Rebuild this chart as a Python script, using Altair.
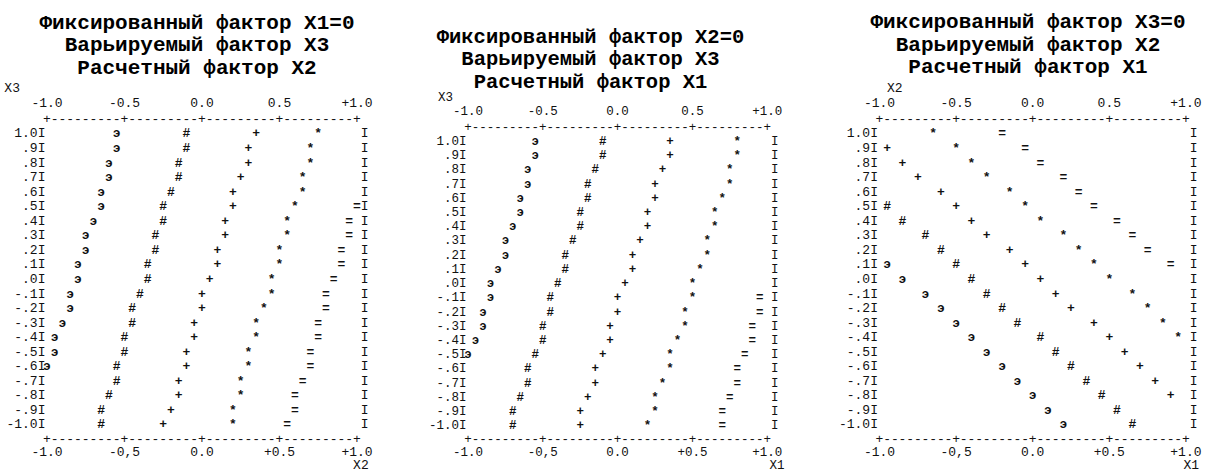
import altair as alt
import pandas as pd

ROWS = [1.0, 0.9, 0.8, 0.7, 0.6, 0.5, 0.4, 0.3, 0.2, 0.1, 0.0,
        -0.1, -0.2, -0.3, -0.4, -0.5, -0.6, -0.7, -0.8, -0.9, -1.0]
ROW_LABELS = ["1.0", ".9", ".8", ".7", ".6", ".5", ".4", ".3", ".2", ".1", ".0",
              "-.1", "-.2", "-.3", "-.4", "-.5", "-.6", "-.7", "-.8", "-.9", "-1.0"]
SYMBOLS = ["э", "#", "+", "*", "="]
TICKS = [-1.0, -0.5, 0.0, 0.5, 1.0]
TOP_TICK_LABELS = ["-1.0", "-0.5", "0.0", "0.5", "+1.0"]
BOTTOM_TICK_LABELS = ["-1.0", "-0,5", "0.0", "+0.5", "+1.0"]
STEP = 0.05  # one printer column
N = None

# Panel 1: fixed X1=0, varied X3 (rows), computed X2 (columns)
P1_TITLE = ["Фиксированный фактор X1=0", "Варьируемый фактор X3", "Расчетный фактор X2"]
P1_AXES = ("X3", "X2")
P1_E = [-0.55, -0.55, -0.6, -0.6, -0.65, -0.65, -0.7, -0.75, -0.75, -0.8, -0.8,
        -0.85, -0.85, -0.9, -0.95, -0.95, -1.0, N, N, N, N]
P1_H = [-0.1, -0.1, -0.15, -0.15, -0.2, -0.25, -0.25, -0.3, -0.3, -0.35, -0.35,
        -0.4, -0.45, -0.45, -0.5, -0.5, -0.55, -0.55, -0.6, -0.65, -0.65]
P1_P = [0.35, 0.3, 0.3, 0.25, 0.2, 0.2, 0.15, 0.15, 0.1, 0.1, 0.05,
        0.0, 0.0, -0.05, -0.05, -0.1, -0.1, -0.15, -0.15, -0.2, -0.25]
P1_S = [0.75, 0.7, 0.7, 0.65, 0.65, 0.6, 0.55, 0.55, 0.5, 0.5, 0.45,
        0.45, 0.4, 0.35, 0.35, 0.3, 0.3, 0.25, 0.25, 0.2, 0.2]
P1_Q = [N, N, N, N, N, 1.0, 0.95, 0.95, 0.9, 0.9, 0.85,
        0.8, 0.8, 0.75, 0.75, 0.7, 0.7, 0.65, 0.6, 0.6, 0.55]

# Panel 2: fixed X2=0, varied X3 (rows), computed X1 (columns)
P2_TITLE = ["Фиксированный фактор X2=0", "Варьируемый фактор X3", "Расчетный фактор X1"]
P2_AXES = ("X3", "X1")
P2_E = [-0.55, -0.55, -0.6, -0.6, -0.65, -0.65, -0.7, -0.75, -0.75, -0.8, -0.85,
        -0.85, -0.9, -0.9, -0.95, -1.0, N, N, N, N, N]
P2_H = [-0.1, -0.1, -0.15, -0.2, -0.2, -0.25, -0.25, -0.3, -0.35, -0.35, -0.4,
        -0.45, -0.45, -0.5, -0.5, -0.55, -0.6, -0.6, -0.65, -0.7, -0.7]
P2_P = [0.35, 0.35, 0.3, 0.25, 0.25, 0.2, 0.2, 0.15, 0.1, 0.1, 0.05,
        0.0, 0.0, -0.05, -0.05, -0.1, -0.15, -0.15, -0.2, -0.25, -0.25]
P2_S = [0.8, 0.8, 0.75, 0.75, 0.7, 0.65, 0.65, 0.6, 0.6, 0.55, 0.5,
        0.5, 0.45, 0.45, 0.4, 0.35, 0.35, 0.3, 0.25, 0.25, 0.2]
P2_Q = [N, N, N, N, N, N, N, N, N, N, N,
        0.95, 0.95, 0.9, 0.9, 0.85, 0.8, 0.8, 0.75, 0.7, 0.7]

# Panel 3: fixed X3=0, varied X2 (rows), computed X1 (columns)
P3_TITLE = ["Фиксированный фактор X3=0", "Варьируемый фактор X2", "Расчетный фактор X1"]
P3_AXES = ("X2", "X1")
P3_E = [N, N, N, N, N, N, N, N, N, -0.95, -0.85,
        -0.7, -0.6, -0.5, -0.4, -0.3, -0.2, -0.1, 0.0, 0.1, 0.2]
P3_H = [N, N, N, N, N, -0.95, -0.85, -0.7, -0.6, -0.5, -0.4,
        -0.3, -0.2, -0.1, 0.05, 0.15, 0.25, 0.35, 0.45, 0.55, 0.65]
P3_P = [N, -0.95, -0.85, -0.75, -0.6, -0.5, -0.4, -0.3, -0.15, -0.05, 0.05,
        0.15, 0.25, 0.4, 0.5, 0.6, 0.7, 0.8, 0.9, N, N]
P3_S = [-0.65, -0.5, -0.4, -0.3, -0.15, -0.05, 0.05, 0.2, 0.3, 0.4, 0.5,
        0.65, 0.75, 0.85, 0.95, N, N, N, N, N, N]
P3_Q = [-0.2, -0.05, 0.05, 0.2, 0.3, 0.4, 0.55, 0.65, 0.75, 0.9, N,
        N, N, N, N, N, N, N, N, N, N]

FONT = "Liberation Mono"
INK = "#111111"


def panel(title, series, axes, width, height, xdom, ydom, fs, tfs, tdx, toff,
          cw, ylab_x, xlab_x, btick_y, xlab_y):
    xs = alt.Scale(domain=xdom, nice=False, zero=False)
    ys = alt.Scale(domain=ydom, nice=False, zero=False)

    def enc(chart):
        return chart.encode(
            x=alt.X("x:Q", scale=xs, axis=None),
            y=alt.Y("y:Q", scale=ys, axis=None),
            text=alt.Text("t:N"),
        )

    pts = []
    for sym, vals in zip(SYMBOLS, series):
        for r, v in zip(ROWS, vals):
            if v is not None:
                pts.append({"x": v, "y": r, "t": sym})
    pts = pd.DataFrame(pts)

    ncol = int(round((TICKS[-1] - TICKS[0]) / STEP))
    frame = []
    for yb in (ROWS[0] + 0.1, ROWS[-1] - 0.1):
        for c in range(ncol + 1):
            xv = TICKS[0] + c * STEP
            ch = "+" if c % 10 == 0 else "-"
            frame.append({"x": xv, "y": yb, "t": ch})
    frame = pd.DataFrame(frame)

    left = pd.DataFrame({"x": [TICKS[0]] * len(ROWS), "y": ROWS,
                         "t": [lab + "I" for lab in ROW_LABELS]})
    right = pd.DataFrame({"x": [TICKS[-1]] * len(ROWS), "y": ROWS, "t": ["I"] * len(ROWS)})
    ticks = pd.DataFrame({"x": TICKS + TICKS,
                          "y": [ROWS[0] + 0.21] * 5 + [ROWS[-1] - btick_y] * 5,
                          "t": TOP_TICK_LABELS + BOTTOM_TICK_LABELS})
    names = pd.DataFrame({"x": [ylab_x, xlab_x],
                          "y": [ROWS[0] + 0.31, ROWS[-1] - xlab_y],
                          "t": list(axes)})

    common = dict(font=FONT, fontSize=fs, color=INK, baseline="middle")
    layers = [
        enc(alt.Chart(frame).mark_text(**common)),
        enc(alt.Chart(left).mark_text(align="right", dx=-0.2 * cw, **common)),
        enc(alt.Chart(right).mark_text(dx=cw, **common)),
        enc(alt.Chart(ticks).mark_text(**common)),
        enc(alt.Chart(names).mark_text(**common)),
        enc(alt.Chart(pts).mark_text(fontWeight="bold", **common)),
    ]
    return alt.layer(*layers).properties(
        width=width, height=height,
        title=alt.TitleParams(text=title, font=FONT, fontSize=tfs, fontWeight="bold",
                              lineHeight=22.5, anchor="middle", dx=tdx, offset=toff,
                              color="black"),
    )


p1 = panel(P1_TITLE, [P1_E, P1_H, P1_P, P1_S, P1_Q], P1_AXES, 400, 391,
           [-1.3032, 1.2774], [-1.3265, 1.3608], 13, 21, -3, 3.5, 7.75, -1.225, 1.025,
           0.19, 0.28)
p2 = panel(P2_TITLE, [P2_E, P2_H, P2_P, P2_S, P2_Q], P2_AXES, 405, 391,
           [-1.4545, 1.2527], [-1.3294, 1.4222], 12.5, 20.5, -12, -11, 7.48, -1.15, 1.065,
           0.19, 0.28)
p3 = panel(P3_TITLE, [P3_E, P3_H, P3_P, P3_S, P3_Q], P3_AXES, 402, 391,
           [-1.4863, 1.1377], [-1.3265, 1.3608], 13, 21, 22, 4, 7.66, -0.9, 1.035,
           0.19, 0.28)

chart = alt.hconcat(p1, p2, p3, spacing=0).properties(
    padding={"left": 0, "right": 0, "top": 11, "bottom": 0},
    background="white",
).configure_view(stroke=None)

chart.save("out.html", embed_options={"renderer": "svg", "actions": False})
